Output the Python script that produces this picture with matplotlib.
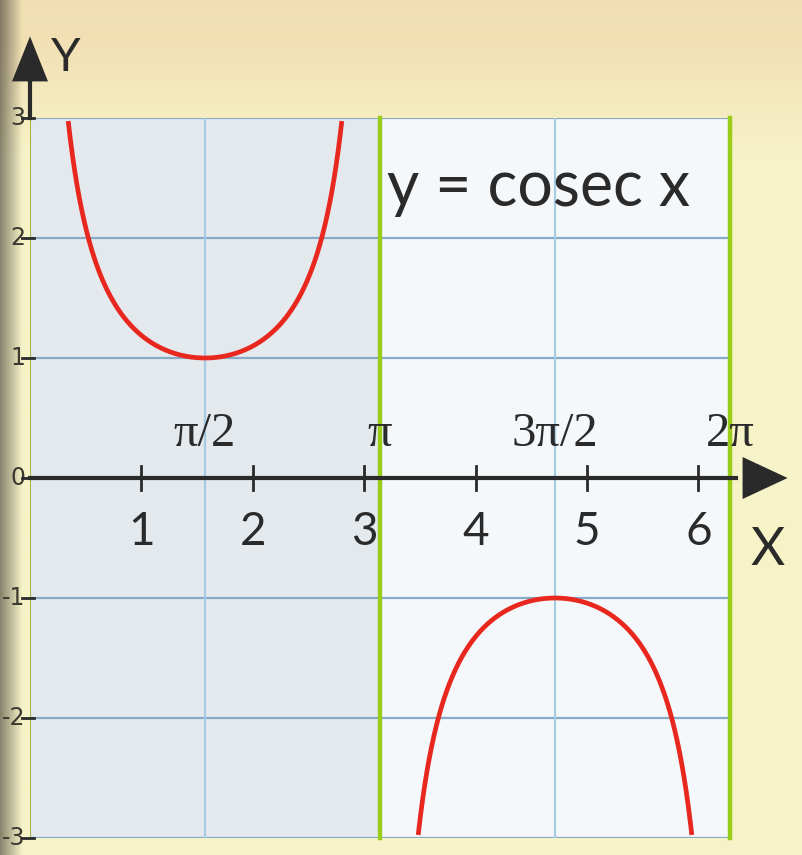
import numpy as np
from matplotlib import pyplot as plt

# chart content
x_ticks = [1, 2, 3, 4, 5, 6]
y_ticks = [-3, -2, -1, 0, 1, 2, 3]
pi_labels = ['π/2', 'π', '3π/2', '2π']
pi_marks = [0.5, 1.0, 1.5, 2.0]          # multiples of pi
asymptotes = [1.0, 2.0]                  # green lines, multiples of pi
title = 'y = cosec x'
y_lim = 3

W, H = 802, 855
fig = plt.figure(figsize=(W / 100, H / 100), dpi=100)

# paper background (photo look: beige top, yellow right, dark binding at left)
bg = fig.add_axes([0, 0, 1, 1], zorder=0)
yy, xx = np.mgrid[0:H, 0:W]
top = np.array([242, 224, 180]) / 255.
low = np.array([247, 243, 200]) / 255.
t = np.clip((yy - 40) / 120., 0, 1)[..., None]
img = top * (1 - t) + low * t
shade = np.clip(1 - xx / 22., 0, 1)[..., None]
img = img * (1 - 0.45 * shade)
bg.imshow(img, aspect='auto', extent=[0, 1, 0, 1])
bg.axis('off')

ax = fig.add_axes([30 / W, 17 / H, 700 / W, 720 / H], zorder=1)
ax.set_xlim(0, 2 * np.pi)
ax.set_ylim(-y_lim, y_lim)
for s in ax.spines.values():
    s.set_visible(False)
ax.set_xticks([])
ax.set_yticks([])
ax.patch.set_alpha(0)

# plot area panels
ax.axvspan(0, np.pi, color='#e4e9ed', zorder=0)
ax.axvspan(np.pi, 2 * np.pi, color='#f5f8fa', zorder=0)

# grid
for v in y_ticks:
    ax.axhline(v, color='#86aac8', lw=1.6, zorder=1)
for m in pi_marks:
    ax.axvline(m * np.pi, color='#a8cbe4', lw=1.6, zorder=1)
ax.axvline(0, color='#a4b54a', lw=1.5, zorder=2)
for m in asymptotes:
    ax.axvline(m * np.pi, color='#9acd1a', lw=3.2, zorder=2, clip_on=False)

# the curve y = cosec x
for a, b in [(0, np.pi), (np.pi, 2 * np.pi)]:
    xs = np.linspace(a + 1e-3, b - 1e-3, 800)
    ys = 1 / np.sin(xs)
    ys[np.abs(ys) > y_lim] = np.nan
    ax.plot(xs, ys, color='#e8281f', lw=3.4, zorder=4, solid_capstyle='butt')

ink = '#2a2a2a'
# x axis with arrow
ax.plot([0, 2 * np.pi + 0.05], [0, 0], color=ink, lw=3, zorder=5, clip_on=False)
ax.annotate('', xy=(6.8, 0), xytext=(6.3, 0), annotation_clip=False, zorder=6,
            arrowprops=dict(arrowstyle='-|>,head_length=0.9,head_width=0.42',
                            mutation_scale=36, color=ink, lw=0, shrinkA=0, shrinkB=0))
for v in x_ticks:
    ax.plot([v, v], [-0.1, 0.1], color=ink, lw=2, zorder=5)
    ax.text(v, -0.45, str(v), ha='center', va='center', fontsize=33,
            family='Lato', color=ink, zorder=6)
ax.text(6.62, -0.6, 'X', ha='center', va='center', fontsize=38,
        family='Lato', color=ink, clip_on=False)

for m, lab in zip(pi_marks, pi_labels):
    ax.text(m * np.pi, 0.37, lab, ha='center', va='center', fontsize=35,
            family='Liberation Serif', color=ink, zorder=6)

# y axis with arrow
ax.plot([0, 0], [y_lim, 3.3], color=ink, lw=3, zorder=5, clip_on=False)
ax.annotate('', xy=(0, 3.68), xytext=(0, 3.25), annotation_clip=False, zorder=6,
            arrowprops=dict(arrowstyle='-|>,head_length=0.9,head_width=0.36',
                            mutation_scale=36, color=ink, lw=0, shrinkA=0, shrinkB=0))
for v in y_ticks:
    ax.plot([-0.07, 0.04], [v, v], color=ink, lw=2, zorder=5, clip_on=False)
    ax.text(-0.04, v, str(v), ha='right', va='center', fontsize=17,
            family='Liberation Sans Narrow', color='#3a3a30', clip_on=False)
ax.text(0.32, 3.5, 'Y', ha='center', va='center', fontsize=34,
        family='Lato', color=ink, clip_on=False)

ax.text(3.2, 2.42, title, ha='left', va='center', fontsize=45,
        family='Lato', color=ink, zorder=6)

fig.savefig('out.png', dpi=100)
